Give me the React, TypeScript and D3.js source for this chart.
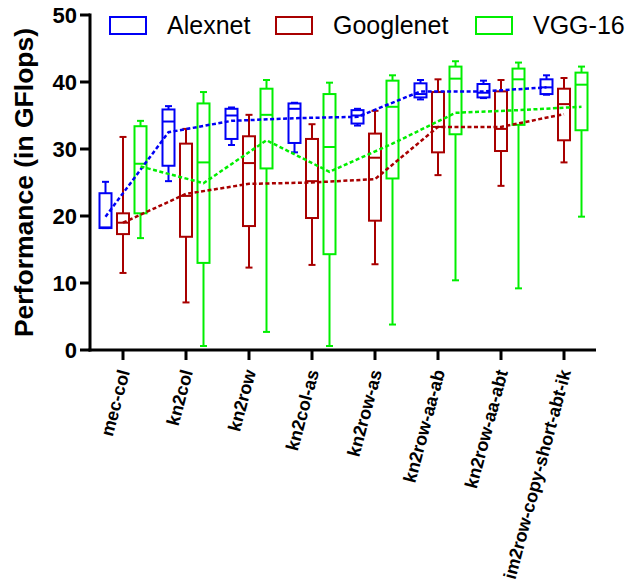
import React from "react";
import * as d3 from "d3";

const categories = [
  "mec-col",
  "kn2col",
  "kn2row",
  "kn2col-as",
  "kn2row-as",
  "kn2row-aa-ab",
  "kn2row-aa-abt",
  "im2row-copy-short-abt-ik",
];

const seriesNames = ["Alexnet", "Googlenet", "VGG-16"];
const seriesColors = ["#0000f5", "#a80000", "#00ee00"];

// [min, q1, median, q3, max, mean]
const alexnet = [
  [18.2, 18.2, 18.3, 23.4, 25.1, 19.9],
  [25.2, 27.5, 34.1, 35.9, 36.4, 32.5],
  [30.6, 31.5, 35.0, 36.0, 36.2, 34.2],
  [29.5, 30.9, 36.0, 36.8, 36.9, 34.6],
  [33.5, 33.8, 35.0, 35.8, 36.0, 34.8],
  [37.4, 37.7, 38.2, 39.8, 40.3, 38.6],
  [37.6, 37.7, 38.4, 39.7, 40.2, 38.6],
  [38.1, 38.2, 39.2, 40.4, 41.0, 39.2],
];
const googlenet = [
  [11.5, 17.3, 19.0, 20.4, 31.8, 19.0],
  [7.1, 16.9, 23.0, 30.8, 33.0, 23.3],
  [12.3, 18.5, 27.9, 31.9, 35.1, 24.8],
  [12.7, 19.7, 25.2, 31.5, 33.7, 25.0],
  [12.8, 19.3, 28.7, 32.3, 35.7, 25.5],
  [26.1, 29.5, 33.3, 38.5, 40.4, 33.3],
  [24.5, 29.7, 33.0, 38.6, 40.3, 33.3],
  [28.0, 31.3, 36.7, 39.0, 40.6, 35.2],
];
const vgg16 = [
  [16.7, 20.4, 27.8, 33.4, 34.2, 27.4],
  [0.6, 13.0, 28.0, 36.8, 38.5, 24.9],
  [2.7, 27.1, 35.1, 39.0, 40.3, 31.3],
  [0.6, 14.3, 30.3, 38.2, 39.9, 26.6],
  [3.8, 25.6, 36.3, 40.2, 41.0, 30.8],
  [10.4, 32.2, 40.5, 42.3, 43.1, 35.4],
  [9.2, 33.6, 40.4, 42.0, 42.9, 35.8],
  [19.9, 32.8, 39.6, 41.4, 42.3, 36.3],
];
const seriesData = [alexnet, googlenet, vgg16];
const yTicks = [0, 10, 20, 30, 40, 50];

export default function App() {
  const W = 644;
  const H = 588;
  const x = d3.scaleBand<string>().domain(categories).range([91.5, 595.5]);
  const y = d3.scaleLinear().domain([0, 50]).range([350, 15]);
  const offsets = [-17.5, 0, 17.5];
  const bw = 12;
  const cap = 7;
  const font = "'Liberation Sans', Arial, Helvetica, sans-serif";
  const cx = (c: string) => (x(c) as number) + x.bandwidth() / 2;
  const line = d3
    .line<[number, number]>()
    .x((d) => d[0])
    .y((d) => d[1]);

  const legendPos = [
    { rx: 110, tx: 167 },
    { rx: 276, tx: 333 },
    { rx: 476, tx: 533 },
  ];

  return (
    <svg
      width={W}
      height={H}
      style={{ position: "absolute", left: 0, top: 0, background: "#fff" }}
      fontFamily={font}
    >
      {/* boxes */}
      {seriesData.map((data, si) => (
        <g key={si} stroke={seriesColors[si]} strokeWidth={2} fill="none">
          {data.map((d, i) => {
            const c = cx(categories[i]) + offsets[si];
            const [mn, q1, md, q3, mx] = d;
            return (
              <g key={i}>
                <line x1={c} x2={c} y1={y(mx)} y2={y(q3)} />
                <line x1={c} x2={c} y1={y(q1)} y2={y(mn)} />
                <line x1={c - cap / 2} x2={c + cap / 2} y1={y(mx)} y2={y(mx)} />
                <line x1={c - cap / 2} x2={c + cap / 2} y1={y(mn)} y2={y(mn)} />
                <rect x={c - bw / 2} y={y(q3)} width={bw} height={y(q1) - y(q3)} fill="none" />
                <line x1={c - bw / 2} x2={c + bw / 2} y1={y(md)} y2={y(md)} />
              </g>
            );
          })}
        </g>
      ))}
      {/* mean lines */}
      {seriesData.map((data, si) => (
        <path
          key={"l" + si}
          d={
            line(
              data.map((d, i) => [cx(categories[i]) + offsets[si], y(d[5])] as [number, number])
            ) || ""
          }
          fill="none"
          stroke={seriesColors[si]}
          strokeWidth={2.5}
          strokeDasharray="4,2.5"
        />
      ))}
      {/* y axis */}
      <line x1={90} x2={90} y1={y(50) - 1.5} y2={y(0) + 1.5} stroke="#000" strokeWidth={3} />
      {yTicks.map((t) => (
        <g key={t}>
          <line x1={80} x2={90} y1={y(t)} y2={y(t)} stroke="#000" strokeWidth={3} />
          <text
            x={77}
            y={y(t)}
            dy="0.36em"
            textAnchor="end"
            fontSize={22}
            fontWeight="bold"
            fill="#000"
          >
            {t}
          </text>
        </g>
      ))}
      <text
        transform={`translate(33,${(y(0) + y(50)) / 2}) rotate(-90)`}
        textAnchor="middle"
        fontSize={26.5}
        fontWeight="bold"
        fill="#000"
      >
        Performance (in GFlops)
      </text>
      {/* x axis */}
      <line x1={88.5} x2={596} y1={350} y2={350} stroke="#000" strokeWidth={3} />
      {categories.map((c) => (
        <g key={c}>
          <line x1={cx(c)} x2={cx(c)} y1={350} y2={360} stroke="#000" strokeWidth={3} />
          <text
            transform={`translate(${cx(c) + 1},${370}) rotate(-75)`}
            textAnchor="end"
            dy="0.35em"
            fontSize={18}
            fontWeight="bold"
            fill="#000"
          >
            {c}
          </text>
        </g>
      ))}
      {/* legend */}
      {seriesNames.map((n, i) => (
        <g key={n}>
          <rect
            x={legendPos[i].rx}
            y={17}
            width={36}
            height={17}
            fill="none"
            stroke={seriesColors[i]}
            strokeWidth={2}
          />
          <text x={legendPos[i].tx} y={34} fontSize={25} fill="#000">
            {n}
          </text>
        </g>
      ))}
    </svg>
  );
}
